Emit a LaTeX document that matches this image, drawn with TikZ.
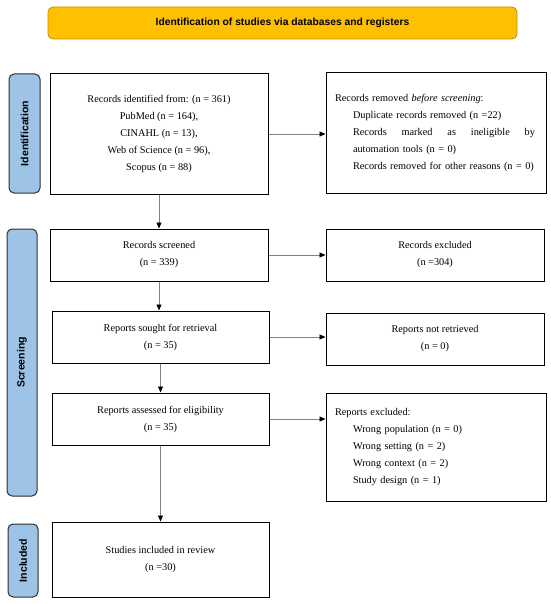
\documentclass[tikz,border=0pt]{standalone}
\usepackage{fontspec}
\setmainfont{Liberation Serif}
\setsansfont{Liberation Sans}
\usetikzlibrary{arrows.meta}
\definecolor{bannerfill}{HTML}{FFC000}
\definecolor{bannerdraw}{HTML}{BF9000}
\definecolor{sidefill}{HTML}{9DC3E6}
\definecolor{sidedraw}{HTML}{2F2F2F}
\definecolor{linkgray}{HTML}{808080}
\begin{document}
\begin{tikzpicture}[x=1pt,y=-1pt,
  box/.style={draw=black, line width=1pt, fill=white, inner sep=0pt, align=center,
    font=\fontsize{10.3}{17}\selectfont},
  listbox/.style={box, align=left, inner xsep=9pt},
  side/.style={draw=sidedraw, fill=sidefill, line width=1pt, rounded corners=5pt,
    inner sep=0pt, rotate=90, font=\sffamily\bfseries\fontsize{10.5}{12}\selectfont},
  banner/.style={draw=bannerdraw, fill=bannerfill, line width=0.8pt, rounded corners=5pt,
    inner sep=0pt, font=\sffamily\bfseries\fontsize{10.3}{12}\selectfont},
  link/.style={draw=linkgray, line width=0.8pt, -{Triangle[color=black,length=6pt,width=5pt]}}]
\useasboundingbox (0,0) rectangle (550,604);

\node[banner, minimum width=469pt, minimum height=32pt] (title) at (282.5,23)
  {Identification of studies via databases and registers};

\node[side, minimum width=119pt, minimum height=31pt] (sideid) at (24.5,133.5) {Identification};
\node[side, minimum width=267pt, minimum height=30pt] (sidescr) at (22,362.5) {Screening};
\node[side, minimum width=73pt, minimum height=30pt] (sideinc) at (23,560.5) {Included};

\node[box, minimum width=218pt, minimum height=120pt] (ident) at (159,134)
  {Records identified from: (n = 361)\\PubMed (n = 164),\\CINAHL (n = 13),\\Web of Science (n = 96),\\Scopus (n = 88)};

\node[listbox, text width=202pt, minimum height=120pt] (removed) at (436,133)
  {Records removed \textit{before screening}:\\
   \hspace*{18pt}Duplicate records removed (n =22)\\
   \hspace*{18pt}\hbox to 182pt{Records\hfill marked\hfill as\hfill ineligible\hfill by}\\
   \hspace*{18pt}automation tools (n = 0)\\
   \hspace*{18pt}Records removed for other reasons (n = 0)};

\node[box, minimum width=218pt, minimum height=52pt] (screened) at (159,255)
  {Records screened\\(n = 339)};
\node[box, minimum width=218pt, minimum height=52pt] (excluded) at (435,255)
  {Records excluded\\(n =304)};

\node[box, minimum width=217pt, minimum height=52pt] (sought) at (160.5,337)
  {Reports sought for retrieval\\(n = 35)};
\node[box, minimum width=218pt, minimum height=52pt] (notret) at (435,339)
  {Reports not retrieved\\(n = 0)};

\node[box, minimum width=217pt, minimum height=52pt] (assessed) at (160.5,419)
  {Reports assessed for eligibility\\(n = 35)};
\node[listbox, text width=202pt, minimum height=108pt] (repexcl) at (436,447)
  {Reports excluded:\\
   \hspace*{18pt}Wrong population (n = 0)\\
   \hspace*{18pt}Wrong setting (n = 2)\\
   \hspace*{18pt}Wrong context (n = 2)\\
   \hspace*{18pt}Study design (n = 1)};

\node[box, minimum width=217pt, minimum height=75pt] (included) at (160.5,559.5)
  {Studies included in review\\(n =30)};

\draw[link] (ident.east) -- (removed.west |- ident.east);
\draw[link] (screened.east) -- (excluded.west |- screened.east);
\draw[link] (sought.east) -- (notret.west |- sought.east);
\draw[link] (assessed.east) -- (repexcl.west |- assessed.east);

\draw[link] (ident.south) -- (ident.south |- screened.north);
\draw[link] (screened.south) -- (screened.south |- sought.north);
\draw[link] (sought.south) -- (sought.south |- assessed.north);
\draw[link] (assessed.south) -- (assessed.south |- included.north);
\end{tikzpicture}
\end{document}
